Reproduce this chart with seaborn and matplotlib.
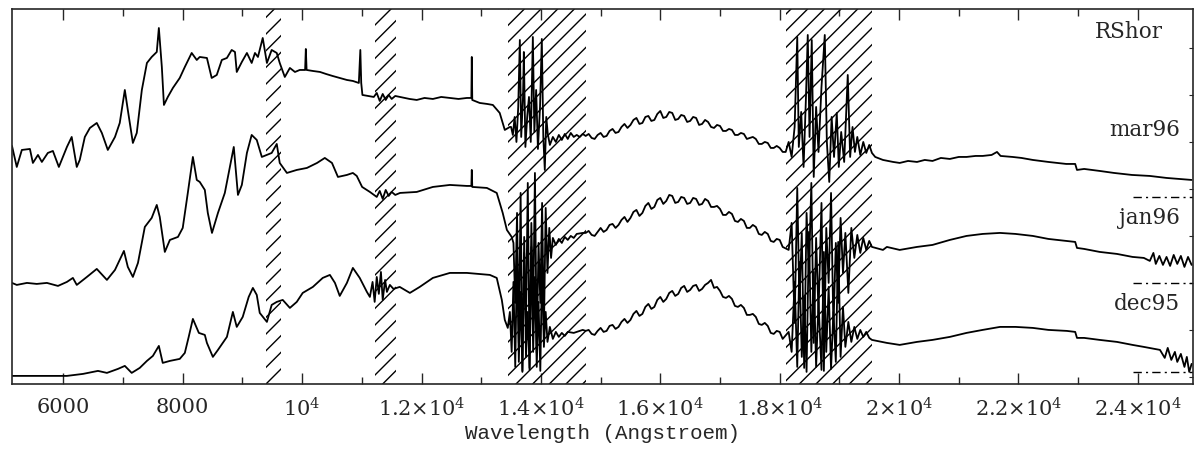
import pandas as pd
import matplotlib.pyplot as plt
import matplotlib.ticker as mticker
import seaborn as sns

sns.set_style('ticks')
plt.rcParams['font.family'] = ['DejaVu Serif']
plt.rcParams['mathtext.fontset'] = 'dejavuserif'
plt.rcParams['hatch.linewidth'] = 1.0

# epochs, vertical offsets of each spectrum (zero level) and telluric bands
epochs = ['mar96', 'jan96', 'dec95']
offsets = [187, 101, 12]
bands = [(9400, 9650), (11220, 11580), (13450, 14750), (18100, 19550)]
xticks = [6000, 8000, 10000, 12000, 14000, 16000, 18000, 20000, 22000, 24000]
xtick_labels = ['6000', '8000', r'$10^4$', r'$1.2{\times}10^4$', r'$1.4{\times}10^4$',
                r'$1.6{\times}10^4$', r'$1.8{\times}10^4$', r'$2{\times}10^4$',
                r'$2.2{\times}10^4$', r'$2.4{\times}10^4$']

# ---- mar96 ----
wl_mar96 = [5140, 5220, 5305, 5440, 5490, 5575, 5640, 5740, 5825, 5925, 6060, 6140, 6225, 6275,
            6360, 6445, 6560, 6645, 6745, 6865, 6945, 7030, 7080, 7165, 7230, 7315, 7400, 7480,
            7565, 7600, 7650, 7685, 7750, 7835, 7950, 8035, 8150, 8235, 8285, 8405, 8485, 8570,
            8655, 8740, 8820, 8875, 8905, 8990, 9075, 9155, 9210, 9260, 9340, 9410, 9490, 9575,
            9625, 9710, 9795, 9880, 9960, 10050, 10062, 10075, 10180, 10300, 10400, 10510, 10630,
            10750, 10850, 10950, 10975, 10990, 11010, 11100, 11200, 11250, 11300, 11350, 11400,
            11450, 11500, 11560, 11640, 11800, 11920, 12050, 12190, 12330, 12475, 12620, 12760,
            12835, 12842, 12850, 12975, 13100, 13195, 13310, 13395, 13480,
            13500, 13530, 13560, 13590, 13620, 13647, 13670, 13700, 13714, 13740, 13770, 13800,
            13830, 13865, 13890, 13920, 13950, 13985, 14015, 14040, 14065, 14090, 14115, 14150,
            14200, 14250, 14300, 14350, 14400, 14450, 14500, 14550, 14600, 14650, 14700, 14750,
            18100, 18150, 18200, 18250, 18294, 18320, 18360, 18400, 18440, 18470, 18500, 18537,
            18570, 18610, 18650, 18700, 18755, 18790, 18830, 18870, 18910, 18956, 18990, 19030,
            19080, 19140, 19180, 19220, 19260, 19300, 19350, 19400, 19450, 19500, 19545, 19600,
            19730, 19900, 20010, 20150, 20300, 20430, 20560, 20700, 20850, 21000, 21130, 21280,
            21400, 21550, 21640, 21700, 21900, 22050, 22240, 22500, 22800, 22950, 22980, 23100,
            23360, 23600, 23900, 24200, 24480, 24700, 24900]
fx_mar96 = [51, 30, 47, 48, 34, 42, 35, 44, 46, 30, 50, 60, 30, 37,
            60, 69, 74, 64, 47, 60, 74, 107, 87, 54, 64, 107, 134, 140,
            145, 169, 130, 92, 100, 109, 119, 130, 144, 137, 140, 139, 119, 122,
            137, 139, 147, 145, 125, 135, 144, 134, 144, 140, 159, 134, 147, 144,
            134, 120, 129, 125, 127, 127, 148, 127, 126, 125, 123, 121, 119,
            117, 116, 114, 147, 114, 102, 101, 100, 104, 96, 103, 97,
            102, 98, 101, 100, 98, 97, 99, 98, 100, 99, 98, 99,
            99, 140, 97, 94, 93, 92, 84, 67, 70,
            70, 62, 80, 55, 90, 157, 60, 100, 145, 50, 80, 100,
            55, 160, 65, 107, 48, 90, 158, 60, 27, 80, 63, 52,
            60, 55, 62, 57, 63, 58, 64, 60, 62, 60, 63, 61,
            45, 55, 40, 70, 160, 50, 85, 30, 100, 162, 60, 157,
            20, 90, 45, 110, 162, 55, 15, 80, 40, 84, 30, 65,
            35, 122, 40, 70, 45, 60, 42, 55, 44, 52, 44, 40,
            37, 35, 34, 36, 35, 37, 36, 39, 38, 40, 40, 41,
            41, 42, 45, 41, 40, 39, 37, 35, 33, 33, 27, 28,
            26, 24, 22, 21, 19, 18, 17]

# ---- jan96 ----
wl_jan96 = [5140, 5220, 5390, 5555, 5725, 5910, 6060, 6160, 6225, 6395, 6560, 6730, 6865, 6945,
            7015, 7080, 7165, 7250, 7365, 7480, 7565, 7615, 7700, 7785, 7920, 8000, 8085, 8170,
            8235, 8285, 8370, 8420, 8490, 8590, 8705, 8790, 8855, 8925, 8990, 9075, 9155, 9240,
            9325, 9410, 9490, 9575, 9625, 9745, 9910, 10080, 10250, 10380, 10500, 10600, 10750,
            10850, 10915, 11005, 11135, 11250, 11300, 11350, 11400, 11450, 11500, 11560, 11640,
            11920, 12190, 12475, 12760, 12835, 12842, 12850, 13095, 13260, 13360, 13430, 13510,
            13540, 13570, 13600, 13630, 13660, 13690, 13720, 13750, 13780, 13810, 13840, 13870,
            13900, 13930, 13960, 13990, 14020, 14050, 14080, 14110, 14140, 14170, 14200, 14250,
            14300, 14350, 14400, 14450, 14500, 14550, 14600, 14700, 14750,
            18150, 18200, 18250, 18294, 18330, 18370, 18410, 18450, 18490, 18530, 18570, 18610,
            18650, 18700, 18740, 18780, 18820, 18860, 18900, 18940, 18980, 19020, 19060, 19100,
            19150, 19200, 19250, 19300, 19350, 19400, 19450, 19500, 19545,
            19730, 19795, 20010, 20300, 20560, 20850, 21130, 21400, 21690, 21950, 22240, 22500,
            22810, 22950, 22980, 23100, 23360, 23650, 23910, 24100, 24200, 24260, 24300, 24360,
            24420, 24480, 24540, 24600, 24660, 24720, 24780, 24840, 24900]
fx_jan96 = [0, -2, 0, -1, 0, -3, 1, 5, -2, 6, 14, 3, 13, 23,
            32, 16, 6, 20, 56, 65, 78, 66, 31, 43, 46, 55, 90, 126,
            103, 101, 93, 70, 50, 70, 90, 116, 136, 88, 98, 130, 148, 143,
            126, 128, 130, 139, 120, 110, 113, 115, 120, 125, 120, 106, 108,
            110, 107, 96, 91, 86, 92, 84, 93, 87, 91, 88, 90,
            91, 96, 98, 97, 97, 113, 96, 95, 90, 70, 53, 46,
            40, -20, 70, -60, 90, -88, 30, -40, 100, -85, 60, -30,
            110, -70, 40, -20, 80, -50, 75, 10, 55, 25, 45, 38,
            44, 40, 46, 43, 47, 45, 49, 50, 50,
            33, 60, -40, 95, -20, 50, -85, 70, 10, 100, -60, 45,
            -30, 80, -88, 55, 0, 90, -45, 40, -20, 65, 10, 50,
            -10, 55, 25, 48, 30, 45, 33, 42, 36,
            33, 36, 33, 36, 38, 43, 47, 49, 50, 49, 47, 44,
            42, 41, 35, 34, 31, 29, 26, 25, 22, 30, 19, 27,
            18, 26, 17, 28, 19, 27, 16, 26, 18]

# ---- dec95 ----
wl_dec95 = [5140, 5490, 6060, 6330, 6580, 6730, 6915, 7030, 7145, 7280, 7400, 7500, 7600, 7665,
            7785, 7950, 8035, 8100, 8170, 8270, 8370, 8405, 8505, 8590, 8740, 8840, 8905, 9005,
            9105, 9175, 9240, 9290, 9410, 9490, 9575, 9675, 9795, 9910, 10010, 10180, 10345,
            10465, 10550, 10630, 10750, 10850, 10965, 11085, 11135, 11180, 11215, 11250, 11285,
            11320, 11350, 11390, 11420, 11470, 11530, 11635, 11805, 11970, 12190, 12475, 12760,
            13145, 13260, 13345, 13395, 13445,
            13480, 13510, 13540, 13570, 13600, 13630, 13660, 13690, 13720, 13750, 13780, 13810,
            13840, 13870, 13900, 13930, 13960, 13990, 14020, 14050, 14080, 14110, 14150, 14200,
            14250, 14300, 14350, 14400, 14450, 14550, 14700, 14750,
            18150, 18200, 18250, 18294, 18330, 18370, 18410, 18450, 18490, 18530, 18570, 18610,
            18650, 18700, 18740, 18780, 18820, 18860, 18900, 18940, 18980, 19020, 19060, 19100,
            19150, 19200, 19250, 19300, 19350, 19400, 19450, 19500, 19545,
            19795, 20010, 20300, 20560, 20850, 21130, 21400, 21690, 21950, 22240, 22500, 22810,
            22950, 22980, 23100, 23360, 23650, 23910, 24100, 24370, 24450, 24500, 24560, 24620,
            24660, 24720, 24780, 24820, 24860, 24900]
fx_dec95 = [-4, -4, -4, -2, 1, -1, 3, 6, -1, 4, 11, 16, 26, 9,
            11, 13, 19, 35, 53, 39, 37, 29, 15, 22, 35, 60, 45, 55,
            75, 84, 77, 59, 50, 67, 70, 72, 64, 70, 79, 85, 94,
            97, 89, 76, 89, 104, 94, 80, 75, 90, 70, 95, 78,
            100, 72, 92, 80, 87, 83, 85, 79, 85, 94, 99, 99,
            97, 94, 72, 52, 44,
            60, 20, 90, 5, 120, 10, 80, 0, 135, 15, 60, 2,
            125, 20, 95, 5, 70, 1, 110, 25, 60, 30, 45, 33,
            40, 35, 39, 36, 40, 39, 42, 41,
            40, 20, 90, 5, 110, 15, 75, 0, 140, 20, 100, 5,
            70, 2, 120, 20, 85, 3, 60, 10, 130, 15, 65, 25,
            50, 30, 45, 33, 42, 35, 40, 34, 32,
            29, 27, 30, 32, 35, 39, 42, 45, 45, 44, 42, 41,
            40, 34, 34, 32, 30, 27, 25, 22, 14, 24, 12, 20,
            10, 18, 5, 15, 0, 8]

# ---- broad 1.5-1.8 micron hump, read every 50 A ----
wl_hump = list(range(14800, 18100, 50))
hump_mar96 = [63, 59, 58, 62,
              64, 60, 61, 66, 68, 64, 65, 70, 73, 69, 72, 77, 79, 73, 74, 80, 81, 76, 77, 83,
              86, 79, 80, 85, 84, 77, 78, 82, 81, 75, 76, 80, 79, 72, 73, 77, 75, 70, 69, 72,
              71, 66, 66, 68, 67, 62, 62, 64, 63, 58, 59, 60, 58, 53, 53, 55, 54, 49, 49, 51,
              49, 45]
hump_jan96 = [52, 48, 47, 51,
              55, 51, 53, 58, 59, 55, 58, 63, 66, 61, 65, 71, 73, 67, 70, 77, 80, 74, 76, 83,
              85, 79, 82, 88, 87, 80, 81, 86, 85, 79, 80, 85, 84, 78, 79, 84, 82, 76, 76, 77,
              74, 68, 68, 71, 69, 62, 61, 64, 62, 55, 55, 58, 56, 49, 48, 51, 49, 42, 41, 44,
              43, 36]
hump_dec95 = [42, 38, 37, 41,
              44, 40, 41, 46, 47, 43, 45, 50, 53, 49, 52, 58, 61, 56, 58, 65, 68, 63, 65, 72,
              75, 70, 73, 79, 81, 76, 78, 84, 86, 80, 82, 86, 87, 81, 83, 87, 89, 92, 84, 85,
              81, 75, 74, 76, 73, 66, 65, 67, 64, 57, 57, 58, 55, 48, 47, 49, 46, 39, 38, 41,
              40, 33]

series = {'mar96': (wl_mar96 + wl_hump, fx_mar96 + hump_mar96),
          'jan96': (wl_jan96 + wl_hump, fx_jan96 + hump_jan96),
          'dec95': (wl_dec95 + wl_hump, fx_dec95 + hump_dec95)}
frames = []
for name, off in zip(epochs, offsets):
    wl, fx = series[name]
    frames.append(pd.DataFrame({'wl': wl, 'flux': [f + off for f in fx], 'epoch': name}))
df = pd.concat(frames, ignore_index=True)

fig = plt.figure(figsize=(12, 4.49), dpi=100)
ax = fig.add_axes([0.01, 0.145, 0.984, 0.835])

sns.lineplot(data=df, x='wl', y='flux', units='epoch', estimator=None, sort=True,
             color='black', lw=1.3, ax=ax)

for lo, hi in bands:
    ax.axvspan(lo, hi, facecolor='none', edgecolor='black', hatch='//', lw=0)

# zero levels marked at the right edge
for name, off in zip(epochs, offsets):
    ax.axhline(off, xmin=0.949, xmax=1.0, color='black', lw=1.0, dashes=(6, 3, 1.5, 3))

ax.set_xlim(5140, 24920)
ax.set_ylim(0, 375)

ax.set_xticks(xticks)
ax.set_xticklabels(xtick_labels, fontsize=15)
ax.xaxis.set_minor_locator(mticker.MultipleLocator(1000))
ax.set_yticks(list(range(7, 375, 47)))
ax.set_yticklabels([])
ax.tick_params(axis='x', which='both', direction='in', top=True, bottom=True, pad=10)
ax.tick_params(axis='x', which='major', length=8, width=1.0)
ax.tick_params(axis='x', which='minor', length=5, width=1.0)
ax.tick_params(axis='y', which='both', direction='in', left=False, right=True, length=3)
for sp in ax.spines.values():
    sp.set_linewidth(1.2)

ax.set_xlabel('Wavelength (Angstroem)', family='Liberation Mono', fontsize=15, labelpad=2)
ax.set_ylabel('')

ax.text(0.975, 0.939, 'RShor', transform=ax.transAxes, ha='right', va='center', fontsize=15.5)
label_y = [0.677, 0.443, 0.213]
for name, yy in zip(epochs, label_y):
    ax.text(0.989, yy, name, transform=ax.transAxes, ha='right', va='center', fontsize=15.5)

fig.savefig('out.png', dpi=100)
